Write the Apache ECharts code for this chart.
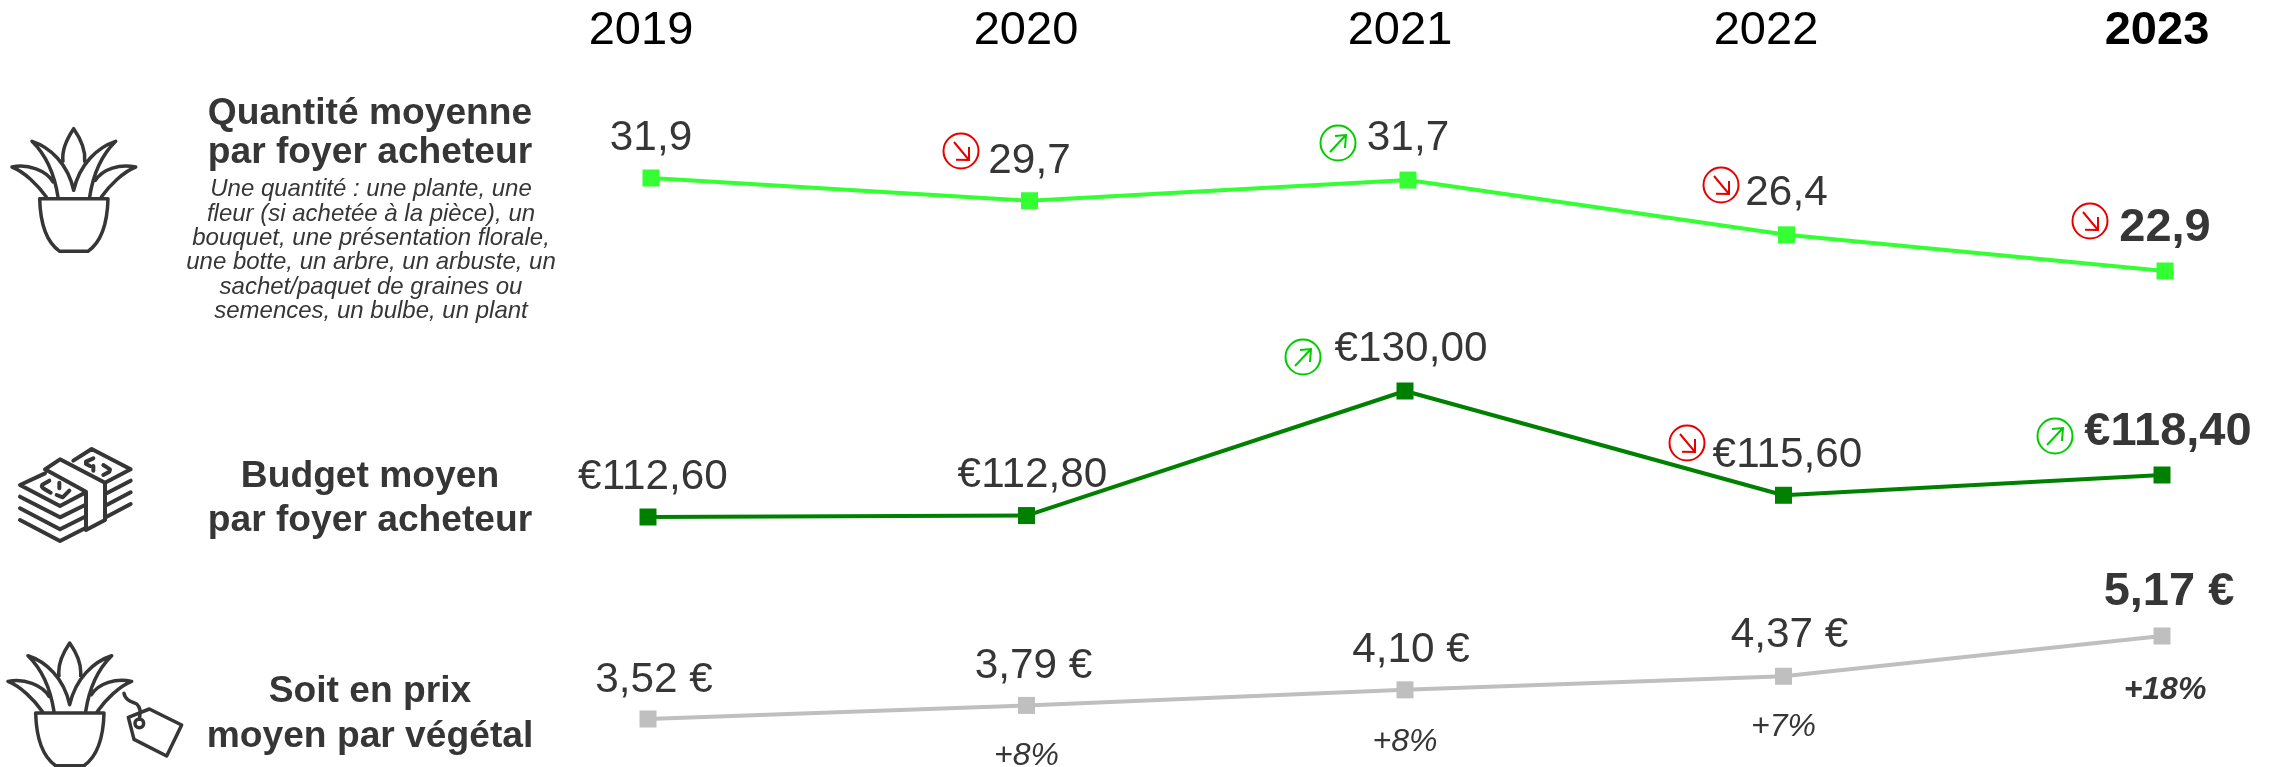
<!DOCTYPE html>
<html lang="fr">
<head>
    <meta charset="UTF-8">
    <title>Quantité et budget moyens par foyer acheteur</title>
    <script src="https://cdn.jsdelivr.net/npm/echarts@6/dist/echarts.min.js"></script>
    <style>
        html, body { margin: 0; padding: 0; background: #fff; }
        #chart { width: 2279px; height: 767px; }
    </style>
</head>
<body>
    <div id="chart"></div>
    <script>
        var years = ['2019', '2020', '2021', '2022', '2023'];
        var quantite = [31.9, 29.7, 31.7, 26.4, 22.9];
        var budget = [112.6, 112.8, 130.0, 115.6, 118.4];
        var prix = [3.52, 3.79, 4.10, 4.37, 5.17];
        var evolPrix = ['', '+8%', '+8%', '+7%', '+18%'];
        var tendanceQuantite = ['', 'down', 'up', 'down', 'down'];
        var tendanceBudget = ['', '', 'up', 'down', 'up'];

        var FONT = '"Liberation Sans", Arial, sans-serif';
        var TEXT = '#363636';
        var RED = '#e60000';
        var GREEN = '#00cc00';

        var myChart = echarts.init(document.getElementById('chart'));

        function fr(v, d) { return v.toFixed(d).replace('.', ','); }

        // decalage des labels, point par point
        var offQuantite = [[0, -40], [0, -39], [0, -42], [0, -41], [0, -43]];
        var offBudget = [[5, -40], [6, -40], [6, -42], [4, -40], [6, -43]];
        var offPrix = [[6, -39], [7, -39], [6, -39], [6, -41], [7, -44]];
        var offEvol = [[0, 51], [0, 51], [0, 52], [0, 51], [3, 54]];

        function lineSeries(idx, values, color, fmt, offs) {
            return {
                type: 'line',
                xAxisIndex: idx,
                yAxisIndex: idx,
                data: values.map(function (v, i) {
                    var last = i === values.length - 1;
                    return {
                        value: v,
                        label: {
                            show: true,
                            position: 'inside',
                            offset: offs[i],
                            formatter: fmt(v),
                            color: TEXT,
                            fontFamily: FONT,
                            fontSize: last ? 47 : 42.3,
                            fontWeight: last ? 'bold' : 'normal'
                        }
                    };
                }),
                symbol: 'rect',
                symbolSize: 17,
                showSymbol: true,
                clip: false,
                itemStyle: { color: color },
                lineStyle: { color: color, width: 4 }
            };
        }

        function grid(left, width, top, height) {
            return { left: left, width: width, top: top, height: height };
        }
        function xAxis(idx) {
            return { type: 'category', gridIndex: idx, data: years, boundaryGap: false, show: false };
        }
        function yAxis(idx, min, max) {
            return { type: 'value', gridIndex: idx, min: min, max: max, show: false };
        }

        // les formes des pictos sont enregistrees une fois, puis posees dans graphic
        function shape(name, d) {
            echarts.graphic.registerShape(name, echarts.graphic.extendPath(d, {}));
            return name;
        }

        var plant = shape('plante',
            'M165 118C162 95 170 60 197 20C225 60 232 95 230 118' +
            'M150 225C140 160 115 100 72 58C125 75 180 125 197 205C215 125 270 75 323 58C280 100 255 160 245 225' +
            'M115 225C90 190 50 150 12 135C60 125 115 145 135 180' +
            'M280 225C305 190 345 150 383 135C335 125 285 140 262 175' +
            'M95 230L300 230C298 310 280 360 240 388L155 388C115 360 97 310 95 230Z');

        var money = shape('billets',
            'M190 62L245 27L362 88L285 128' +
            'M105 88L150 58L285 128L285 240L228 270L228 155Z' +
            'M105 100L30 135L150 198L225 158' +
            'M30 170L150 232L225 195M30 205L150 268L225 230M30 240L150 303L225 265' +
            'M290 160L362 122M290 195L362 157M290 230L362 192' +
            'M118 122L97 134Q92 140 102 146L122 158M148 128L148 145M178 152L158 172L140 165' +
            'M250 55L228 65L228 72L240 78M250 78L250 92M280 75L300 88L298 95L280 105');

        var tag = shape('etiquette',
            'M42 40C45 60 65 65 80 72C95 85 90 100 88 118' +
            'M55 112L118 87L215 135L170 228L72 178Z' +
            'M101 130A13 13 0 1 1 75 130A13 13 0 1 1 101 130Z');

        var arrowUp = shape('flecheHaut', 'M-8 9L8 -8M-3 -7L8 -8L7 5');
        var arrowDown = shape('flecheBas', 'M-7 -9L8 9M8 -4L8 9L-5 8.7');

        function outline(type, x, y, width) {
            return {
                type: type, x: x, y: y, scaleX: 1 / 3, scaleY: 1 / 3,
                style: { fill: 'none', stroke: TEXT, lineWidth: width, lineJoin: 'round', lineCap: 'round' }
            };
        }

        function trendIcon(cx, cy, dir) {
            var c = dir === 'up' ? GREEN : RED;
            return {
                type: 'group', x: cx, y: cy,
                children: [
                    { type: 'circle', shape: { cx: 0, cy: 0, r: 17.5 }, style: { fill: 'none', stroke: c, lineWidth: 2 } },
                    { type: dir === 'up' ? arrowUp : arrowDown, style: { fill: 'none', stroke: c, lineWidth: 2 } }
                ]
            };
        }

        function label(text, x, y, size, weight, italic, color) {
            return {
                type: 'text', x: x, y: y,
                style: {
                    text: text, fill: color || TEXT, align: 'center', verticalAlign: 'middle',
                    font: (italic ? 'italic ' : '') + (weight || 'normal') + ' ' + size + 'px ' + FONT
                }
            };
        }

        var yearX = [641, 1026, 1400, 1766, 2157];
        var graphics = [];
        years.forEach(function (y, i) {
            graphics.push(label(y, yearX[i], 31, 47, i === 4 ? 'bold' : 'normal', false, '#000'));
        });
        [['Quantité moyenne', 114], ['par foyer acheteur', 153], ['Budget moyen', 477], ['par foyer acheteur', 521],
            ['Soit en prix', 692], ['moyen par végétal', 737]].forEach(function (t) {
            graphics.push(label(t[0], 370, t[1], 37.2, 'bold'));
        });
        [
            'Une quantité : une plante, une',
            'fleur (si achetée à la pièce), un',
            'bouquet, une présentation florale,',
            'une botte, un arbre, un arbuste, un',
            'sachet/paquet de graines ou',
            'semences, un bulbe, un plant'
        ].forEach(function (t, i) {
            graphics.push(label(t, 371, 189.5 + i * 24.4, 24, 'normal', true));
        });

        graphics.push(outline(plant, 8, 122, 10.5));
        graphics.push(outline(plant, 4, 636.4, 10.5));
        graphics.push(outline(money, 10, 440, 12));
        graphics.push(outline(tag, 110, 680, 10.5));

        var iconsQuantite = [null, [961, 151], [1338, 143], [1721, 185], [2090, 221]];
        var iconsBudget = [null, null, [1303, 357], [1687, 443], [2055, 436]];
        tendanceQuantite.forEach(function (d, i) {
            if (d) graphics.push(trendIcon(iconsQuantite[i][0], iconsQuantite[i][1], d));
        });
        tendanceBudget.forEach(function (d, i) {
            if (d) graphics.push(trendIcon(iconsBudget[i][0], iconsBudget[i][1], d));
        });

        var series = [
            lineSeries(0, quantite, '#33ff33', function (v) { return fr(v, 1); }, offQuantite),
            lineSeries(1, budget, '#008000', function (v) { return '€' + fr(v, 2); }, offBudget),
            lineSeries(2, prix, '#bfbfbf', function (v) { return fr(v, 2) + ' €'; }, offPrix),
            {
                // evolution du prix, sous la ligne grise
                type: 'line',
                xAxisIndex: 2,
                yAxisIndex: 2,
                symbol: 'rect',
                symbolSize: 1,
                showSymbol: true,
                clip: false,
                itemStyle: { color: 'rgba(0,0,0,0)' },
                lineStyle: { color: 'rgba(0,0,0,0)' },
                silent: true,
                data: prix.map(function (v, i) {
                    var last = i === prix.length - 1;
                    return {
                        value: v,
                        label: {
                            show: true,
                            position: 'inside',
                            offset: offEvol[i],
                            formatter: evolPrix[i],
                            color: TEXT,
                            fontFamily: FONT,
                            fontStyle: 'italic',
                            fontWeight: last ? 'bold' : 'normal',
                            fontSize: 32
                        }
                    };
                })
            }
        ];

        myChart.setOption({
            backgroundColor: '#fff',
            animation: false,
            grid: [
                // 10,33 px par unite
                grid(651, 1514, 178, 93),
                // 7,24 px par euro
                grid(648, 1514, 391, 126),
                // 50,3 px par euro
                grid(648, 1514, 636, 83)
            ],
            xAxis: [xAxis(0), xAxis(1), xAxis(2)],
            yAxis: [yAxis(0, 22.9, 31.9), yAxis(1, 112.6, 130), yAxis(2, 3.52, 5.17)],
            series: series,
            graphic: { elements: graphics }
        });
    </script>
</body>
</html>
